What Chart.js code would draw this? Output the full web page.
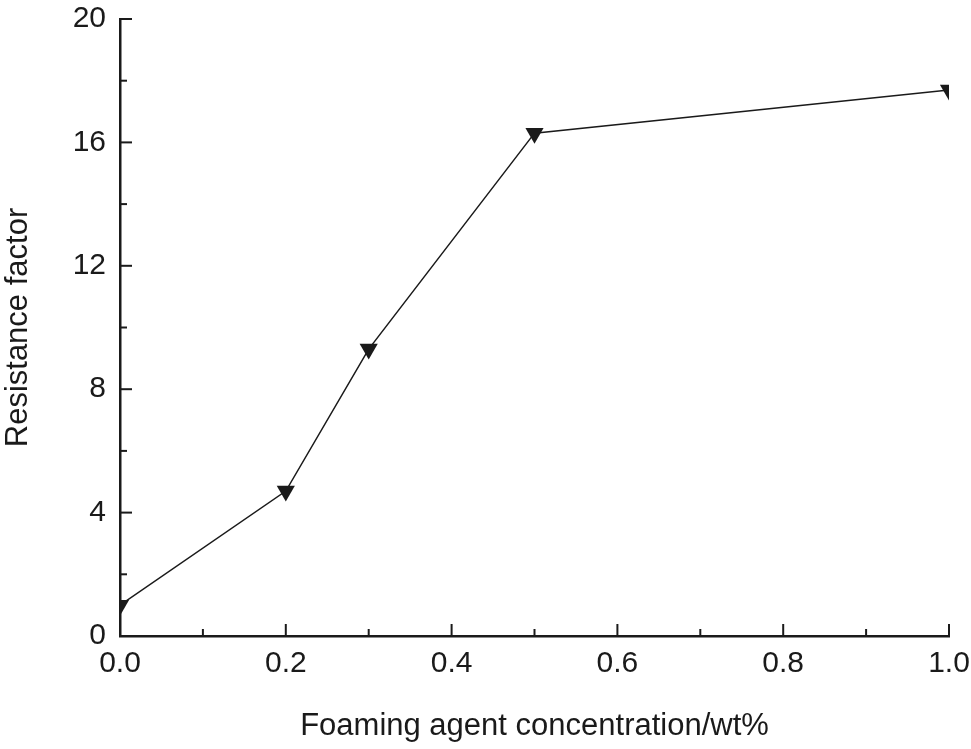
<!DOCTYPE html>
<html>
<head>
    <title>Resistance factor</title>
    <script src="https://cdn.jsdelivr.net/npm/chart.js"></script>
    <style>
        body { margin: 0; background: #fff; }
        #wrap { width: 971px; height: 749px; }
    </style>
</head>
<body>
    <div id="wrap"><canvas id="myChart" width="971" height="749"></canvas></div>

    <script>
        // data
        const concentration = [0.0, 0.2, 0.3, 0.5, 1.0];
        const resistance = [1.0, 4.7, 9.3, 16.3, 17.7];

        const xMajor = [0.0, 0.2, 0.4, 0.6, 0.8, 1.0];
        const xMinor = [0.1, 0.3, 0.5, 0.7, 0.9];
        const yMajor = [0, 4, 8, 12, 16, 20];
        const yMinor = [2, 6, 10, 14, 18];

        const ink = '#1a1a1a';
        const family = 'Liberation Sans, Arial, sans-serif';

        // inward tick marks, drawn through the scales
        const innerTicks = {
            id: 'innerTicks',
            afterDraw(chart) {
                const c = chart.ctx, x = chart.scales.x, y = chart.scales.y;
                c.save();
                c.strokeStyle = ink;
                c.lineWidth = 2;
                const xt = (v, len) => {
                    const px = x.getPixelForValue(v);
                    c.beginPath(); c.moveTo(px, y.bottom); c.lineTo(px, y.bottom - len); c.stroke();
                };
                const yt = (v, len) => {
                    const py = y.getPixelForValue(v);
                    c.beginPath(); c.moveTo(x.left, py); c.lineTo(x.left + len, py); c.stroke();
                };
                xMajor.forEach(v => xt(v, 12));
                xMinor.forEach(v => xt(v, 7));
                yMajor.forEach(v => yt(v, 12));
                yMinor.forEach(v => yt(v, 7));
                c.restore();
            }
        };

        const ctx = document.getElementById('myChart').getContext('2d');
        const myChart = new Chart(ctx, {
            type: 'line',
            data: {
                datasets: [{
                    data: concentration.map((c, i) => ({ x: c, y: resistance[i] })),
                    borderColor: ink,
                    borderWidth: 1.5,
                    pointStyle: 'triangle',
                    rotation: 180,
                    pointRadius: 10.5,
                    pointBackgroundColor: ink,
                    pointBorderColor: ink,
                    pointBorderWidth: 0,
                    tension: 0
                }]
            },
            options: {
                responsive: false,
                animation: false,
                layout: { padding: { top: 19, right: 22, left: 0, bottom: 0 } },
                plugins: { legend: { display: false }, tooltip: { enabled: false } },
                scales: {
                    x: {
                        type: 'linear',
                        min: 0, max: 1,
                        afterBuildTicks: s => { s.ticks = xMajor.map(v => ({ value: v })); },
                        afterFit: s => { s.height = 113; s.paddingLeft = 0; s.paddingRight = 0; },
                        grid: { display: false, drawTicks: false },
                        border: { display: true, color: ink, width: 2.5 },
                        ticks: {
                            color: ink, font: { family: family, size: 30 }, padding: 10, maxRotation: 0,
                            callback: v => v.toFixed(1)
                        },
                        title: {
                            display: true, text: 'Foaming agent concentration/wt%',
                            color: ink, font: { family: family, size: 31 },
                            padding: { top: 22 }
                        }
                    },
                    y: {
                        min: 0, max: 20,
                        afterBuildTicks: s => { s.ticks = yMajor.map(v => ({ value: v })); },
                        afterFit: s => { s.width = 120; s.paddingTop = 0; s.paddingBottom = 0; },
                        grid: { display: false, drawTicks: false },
                        border: { display: true, color: ink, width: 2.5 },
                        ticks: { color: ink, font: { family: family, size: 30 }, padding: 14 },
                        title: {
                            display: true, text: 'Resistance factor',
                            color: ink, font: { family: family, size: 31 },
                            padding: { bottom: 0, top: 0 }
                        }
                    }
                }
            },
            plugins: [innerTicks]
        });
    </script>
</body>
</html>
